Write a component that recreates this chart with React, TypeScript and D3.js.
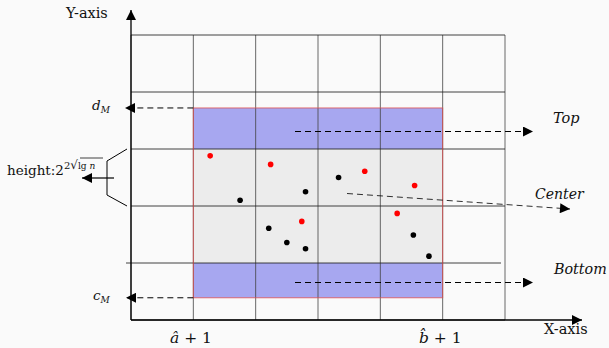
import React from 'react';
import * as d3 from 'd3';

// grid columns / rows (data units)
const cols = [0, 1, 2, 3, 4, 5, 6];
const rows = [0, 1, 2, 3, 4, 5];

// region [a+1, b+1] and bands
const region = { x0: 1, x1: 5 };
const topBand = [3, 3.72];
const centerBand = [1, 3];
const bottomBand = [0.39, 1];

// points
const redX = [1.27, 2.24, 3.75, 4.55, 2.74, 4.27];
const redY = [2.88, 2.73, 2.61, 2.36, 1.73, 1.87];
const blackX = [1.75, 2.8, 3.33, 2.21, 2.5, 2.8, 4.53, 4.78];
const blackY = [2.1, 2.25, 2.5, 1.61, 1.36, 1.25, 1.49, 1.12];

const W = 609;
const H = 348;

const App = () => {
  const x = d3.scaleLinear().domain([0, 6]).range([131, 505]);
  const y = d3.scaleLinear().domain([0, 5]).range([320, 35]);
  const serif = 'DejaVu Serif';

  const bandRect = (b: number[], fill: string) => (
    <rect x={x(region.x0)} y={y(b[1])} width={x(region.x1) - x(region.x0)} height={y(b[0]) - y(b[1])} fill={fill} />
  );

  return (
    <div style={{ position: 'fixed', left: 0, top: 0 }}>
      <svg width={W} height={H} style={{ display: 'block', background: '#fafafa' }}>
        <defs>
          <marker id="arr" viewBox="0 0 10 10" refX="10" refY="5" markerWidth="15" markerHeight="10" markerUnits="userSpaceOnUse" orient="auto">
            <path d="M0,0 L10,5 L0,10 z" fill="#000" />
          </marker>
        </defs>

        {/* fills */}
        {bandRect(centerBand, '#ececec')}
        {bandRect(topBand, '#a7a7f0')}
        {bandRect(bottomBand, '#a7a7f0')}

        {/* grid */}
        {cols.map((c) => (
          <line key={'v' + c} x1={x(c)} x2={x(c)} y1={y(0)} y2={y(5)} stroke="#444" strokeOpacity={0.8} strokeWidth={1} />
        ))}
        {rows.map((r) => (
          <line key={'h' + r} x1={r === 1 ? x(0) - 5 : x(0)} x2={r === 1 ? x(6) - 4 : x(6)} y1={y(r)} y2={y(r)} stroke="#222" strokeOpacity={0.85} strokeWidth={1} />
        ))}

        {/* region outline */}
        <rect x={x(region.x0)} y={y(topBand[1])} width={x(region.x1) - x(region.x0)} height={y(bottomBand[0]) - y(topBand[1])} fill="none" stroke="#e05050" strokeOpacity={0.8} strokeWidth={1} />

        {/* axes */}
        <line x1={x(0)} x2={x(0)} y1={y(0)} y2={10} stroke="#000" strokeWidth={1.3} markerEnd="url(#arr)" />
        <line x1={x(0)} x2={582} y1={y(0)} y2={y(0)} stroke="#000" strokeWidth={1.3} markerEnd="url(#arr)" />

        {/* points */}
        {redX.map((v, i) => (
          <circle key={'r' + i} cx={x(v)} cy={y(redY[i])} r={2.8} fill="#ff0000" />
        ))}
        {blackX.map((v, i) => (
          <circle key={'b' + i} cx={x(v)} cy={y(blackY[i])} r={2.8} fill="#000" />
        ))}

        {/* dashed arrows */}
        <g stroke="#000" strokeWidth={1} strokeDasharray="6,4" fill="none">
          <line x1={x(region.x0)} x2={125} y1={y(topBand[1])} y2={y(topBand[1])} markerEnd="url(#arr)" />
          <line x1={x(region.x0)} x2={126} y1={y(bottomBand[0])} y2={y(bottomBand[0])} markerEnd="url(#arr)" />
          <line x1={295} x2={533} y1={131.5} y2={131.5} markerEnd="url(#arr)" />
          <line x1={295} x2={533} y1={282.5} y2={282.5} markerEnd="url(#arr)" />
          <line x1={347} x2={570} y1={193.5} y2={209} strokeOpacity={0.8} markerEnd="url(#arr)" />
        </g>

        {/* brace */}
        <polyline points={`127,${y(3)} 107,161 107,195 127,${y(2)}`} fill="none" stroke="#000" strokeWidth={1} />
        <line x1={114} x2={82} y1={178} y2={178} stroke="#000" strokeWidth={1.2} markerEnd="url(#arr)" />

        {/* labels */}
        <g fontFamily={serif} fill="#111">
          <text x={66} y={18} fontSize={14.5}>Y-axis</text>
          <text x={544} y={334} fontSize={14.5}>X-axis</text>
          <text x={553} y={123} fontSize={14.5} fontStyle="italic">Top</text>
          <text x={535} y={199} fontSize={14} fontStyle="italic">Center</text>
          <text x={554} y={274} fontSize={14.3} fontStyle="italic">Bottom</text>
          <text x={92} y={110} fontSize={13.5} fontStyle="italic">d<tspan fontSize={9} dy={3}>M</tspan></text>
          <text x={93} y={300} fontSize={13.5} fontStyle="italic">c<tspan fontSize={9} dy={3}>M</tspan></text>
          <text x={170} y={343} fontSize={15.5}>
            <tspan fontStyle="italic">â</tspan> + 1
          </text>
          <text x={419} y={343} fontSize={15.5}>
            <tspan fontStyle="italic">b̂</tspan> + 1
          </text>
          <text x={7} y={175} fontSize={13.5}>height:2<tspan fontSize={10} dy={-6}>2</tspan><tspan fontSize={12}>√</tspan><tspan fontSize={9}>lg </tspan><tspan fontSize={9} fontStyle="italic">n</tspan></text>
          <line x1={80} x2={103} y1={158} y2={158} stroke="#111" strokeWidth={0.8} />
        </g>
      </svg>
    </div>
  );
};

export default App;
